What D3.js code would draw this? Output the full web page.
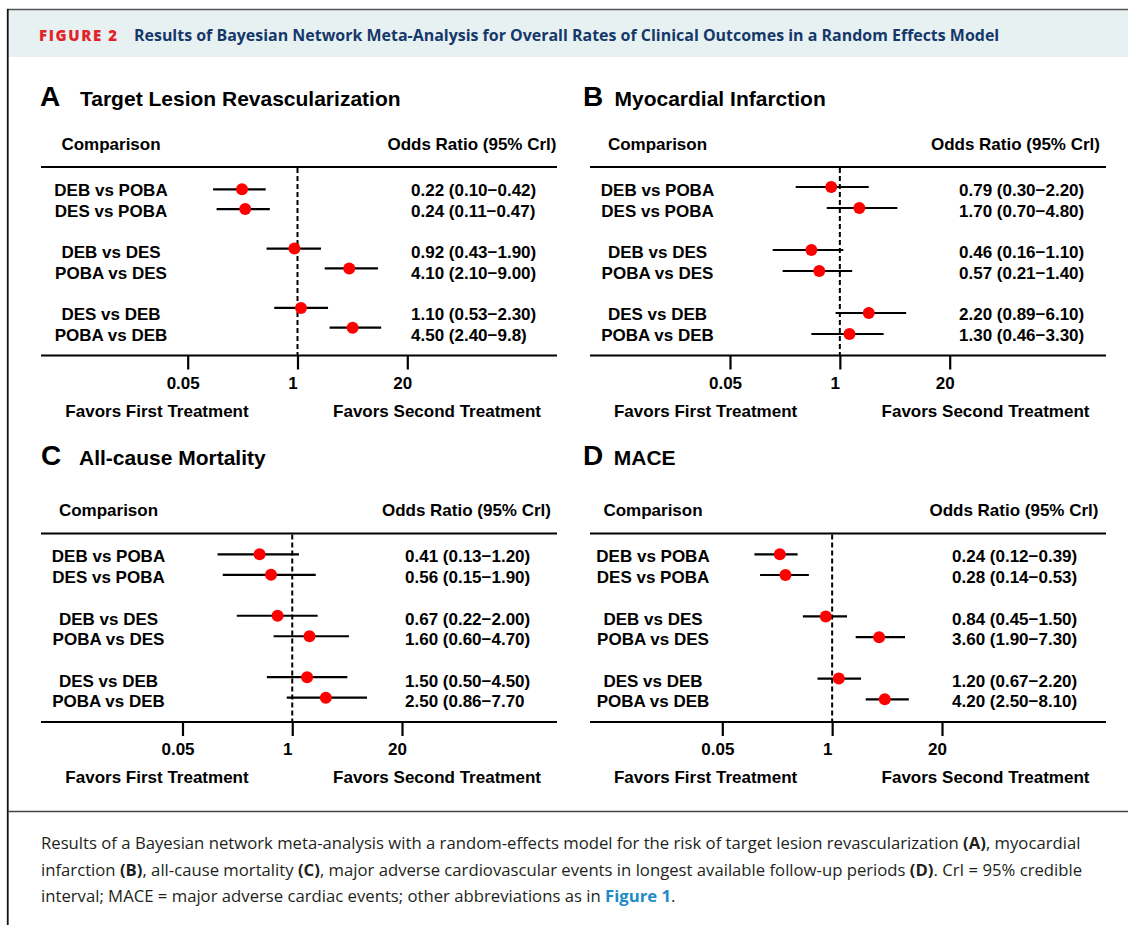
<!DOCTYPE html>
<html>
<head>
<meta charset="utf-8">
<script src="https://cdn.jsdelivr.net/npm/d3@7"></script>
<style>
  body { margin: 0; background: #fff; }
  svg text { font-family: "Liberation Sans", Arial, sans-serif; }
  svg text.capline { font-family: "Open Sans", "Noto Sans", sans-serif; }
</style>
</head>
<body>
<svg id="chart" width="1128" height="925"></svg>
<script>
// ======================================================================
// DATA
// ======================================================================

var comparisons = ["DEB vs POBA", "DES vs POBA", "DEB vs DES", "POBA vs DES", "DES vs DEB", "POBA vs DEB"];
var rowSlots = [0, 1, 3, 4, 6, 7];
var tickValues = [0.05, 1, 20];

// A - target lesion revascularization
var tlrOR = [0.22, 0.24, 0.92, 4.10, 1.10, 4.50];
var tlrLow = [0.10, 0.11, 0.43, 2.10, 0.53, 2.40];
var tlrHigh = [0.42, 0.47, 1.90, 9.00, 2.30, 9.8];
var tlrText = ["0.22 (0.10\u22120.42)", "0.24 (0.11\u22120.47)", "0.92 (0.43\u22121.90)",
               "4.10 (2.10\u22129.00)", "1.10 (0.53\u22122.30)", "4.50 (2.40\u22129.8)"];

// B - myocardial infarction
var miOR = [0.79, 1.70, 0.46, 0.57, 2.20, 1.30];
var miLow = [0.30, 0.70, 0.16, 0.21, 0.89, 0.46];
var miHigh = [2.20, 4.80, 1.10, 1.40, 6.10, 3.30];
var miText = ["0.79 (0.30\u22122.20)", "1.70 (0.70\u22124.80)", "0.46 (0.16\u22121.10)",
              "0.57 (0.21\u22121.40)", "2.20 (0.89\u22126.10)", "1.30 (0.46\u22123.30)"];

// C - all-cause mortality
var acmOR = [0.41, 0.56, 0.67, 1.60, 1.50, 2.50];
var acmLow = [0.13, 0.15, 0.22, 0.60, 0.50, 0.86];
var acmHigh = [1.20, 1.90, 2.00, 4.70, 4.50, 7.70];
var acmText = ["0.41 (0.13\u22121.20)", "0.56 (0.15\u22121.90)", "0.67 (0.22\u22122.00)",
               "1.60 (0.60\u22124.70)", "1.50 (0.50\u22124.50)", "2.50 (0.86\u22127.70"];

// D - MACE
var maceOR = [0.24, 0.28, 0.84, 3.60, 1.20, 4.20];
var maceLow = [0.12, 0.14, 0.45, 1.90, 0.67, 2.50];
var maceHigh = [0.39, 0.53, 1.50, 7.30, 2.20, 8.10];
var maceText = ["0.24 (0.12\u22120.39)", "0.28 (0.14\u22120.53)", "0.84 (0.45\u22121.50)",
                "3.60 (1.90\u22127.30)", "1.20 (0.67\u22122.20)", "4.20 (2.50\u22128.10)"];

// ======================================================================
// LAYOUT
// ======================================================================

var panels = [
  {letter: "A", title: "Target Lesion Revascularization", or: tlrOR, low: tlrLow, high: tlrHigh, text: tlrText,
   top: 0, titleY: 106, x0: 41, x1: 557, labelX: 111, orX: 411, headRight: 556.5,
   tickLo: 187.7, tickHi: 407.3, letterX: 40, titleX: 80, markTop: 189.3, markBottom: 327.7,
   favFirst: 157, favSecond: 437},
  {letter: "B", title: "Myocardial Infarction", or: miOR, low: miLow, high: miHigh, text: miText,
   top: 0, titleY: 106, x0: 590, x1: 1106, labelX: 657.5, orX: 959, headRight: 1100,
   tickLo: 730, tickHi: 949.7, letterX: 583, titleX: 614.5, markTop: 187, markBottom: 334,
   favFirst: 705.6, favSecond: 985.5},
  {letter: "C", title: "All-cause Mortality", or: acmOR, low: acmLow, high: acmHigh, text: acmText,
   top: 366.5, titleY: 465, x0: 41, x1: 557, labelX: 108.5, orX: 405, headRight: 551,
   tickLo: 182.5, tickHi: 402, letterX: 41, titleX: 79, markTop: 187.8, markBottom: 331.2,
   favFirst: 157, favSecond: 437},
  {letter: "D", title: "MACE", or: maceOR, low: maceLow, high: maceHigh, text: maceText,
   top: 366.5, titleY: 465, x0: 590, x1: 1106, labelX: 653, orX: 952, headRight: 1098.5,
   tickLo: 722.3, tickHi: 942, letterX: 583, titleX: 613.8, markTop: 187.8, markBottom: 332.8,
   favFirst: 705.6, favSecond: 985.5}
];

var svg = d3.select("#chart");

// ======================================================================
// FRAME AND HEADER
// ======================================================================

svg.append("rect").attr("x", 8.5).attr("y", 10).attr("width", 1120).attr("height", 47)
    .attr("fill", "#e8f1f1");
svg.append("line").attr("x1", 7).attr("x2", 1128).attr("y1", 9.5).attr("y2", 9.5)
    .attr("stroke", "#555").attr("stroke-width", 1.5);
svg.append("line").attr("x1", 7.75).attr("x2", 7.75).attr("y1", 9).attr("y2", 925)
    .attr("stroke", "#111").attr("stroke-width", 1.8);
svg.append("line").attr("x1", 8).attr("x2", 1128).attr("y1", 811.5).attr("y2", 811.5)
    .attr("stroke", "#444").attr("stroke-width", 1.5);

var fig = svg.append("text").attr("x", 39).attr("y", 41)
    .style("font-family", "'Open Sans', 'Noto Sans', sans-serif")
    .style("font-weight", 800).style("font-size", "15px")
    .attr("fill", "#e2232b").style("letter-spacing", "1.6px")
    .text("FIGURE 2");

var head = svg.append("text").attr("x", 134).attr("y", 41)
    .style("font-family", "'Open Sans', 'Noto Sans', sans-serif")
    .style("font-weight", 700).style("font-size", "16px")
    .attr("fill", "#14386a")
    .text("Results of Bayesian Network Meta-Analysis for Overall Rates of Clinical Outcomes in a Random Effects Model");

// fit a text element to the width seen in the figure
function fitWidth(sel, target) {
  var fs = parseFloat(sel.style("font-size"));
  var w = sel.node().getComputedTextLength();
  sel.style("font-size", (fs * target / w) + "px");
}
fitWidth(head, 866);

// ======================================================================
// FOREST PANELS
// ======================================================================

panels.forEach(function(p) {
  var g = svg.append("g").attr("transform", "translate(0," + p.top + ")");

  var x = d3.scaleLog().domain([0.05, 20]).range([p.tickLo, p.tickHi]);
  var yText = d3.scaleLinear().domain([0, 7]).range([190, 335]);
  var yMark = d3.scaleLinear().domain([0, 7]).range([p.markTop, p.markBottom]);

  // panel title
  g.append("text").attr("x", p.letterX).attr("y", p.titleY - p.top)
      .style("font-size", "28px").style("font-weight", 700).text(p.letter);
  g.append("text").attr("x", p.titleX).attr("y", p.titleY - p.top - 0.5)
      .style("font-size", "21px").style("font-weight", 700).text(p.title);

  // table headers
  g.append("text").attr("x", p.labelX).attr("y", 144).attr("dy", "0.35em")
      .attr("text-anchor", "middle").style("font-size", "17px").style("font-weight", 700)
      .text("Comparison");
  g.append("text").attr("x", p.headRight).attr("y", 144).attr("dy", "0.35em")
      .attr("text-anchor", "end").style("font-size", "17px").style("font-weight", 700)
      .text("Odds Ratio (95% Crl)");

  // rules
  g.append("line").attr("x1", p.x0).attr("x2", p.x1).attr("y1", 167).attr("y2", 167)
      .attr("stroke", "#000").attr("stroke-width", 2);

  // axis
  var axis = g.append("g").attr("transform", "translate(0,355.5)")
      .call(d3.axisBottom(x).tickValues(tickValues).tickSize(14)
        .tickFormat(function(d) { return d < 1 ? d3.format(".2f")(d) : d3.format("d")(d); }));
  axis.select(".domain").remove();
  axis.insert("line", ":first-child").attr("x1", p.x0).attr("x2", p.x1)
      .attr("stroke", "#000").attr("stroke-width", 2);
  axis.selectAll(".tick line").attr("stroke", "#000").attr("stroke-width", 2.2);
  axis.selectAll(".tick text").attr("y", 0).attr("dy", 0)
      .attr("transform", "translate(-5,33)")
      .attr("fill", "#000").style("font-size", "17px").style("font-weight", 700)
      .style("font-family", "'Liberation Sans', Arial, sans-serif");

  // reference line at 1
  g.append("line").attr("x1", x(1)).attr("x2", x(1)).attr("y1", 168).attr("y2", 355)
      .attr("stroke", "#000").attr("stroke-width", 2).attr("stroke-dasharray", "5,3");

  // rows
  var rows = comparisons.map(function(c, i) {
    return {name: c, slot: rowSlots[i], or: p.or[i], low: p.low[i], high: p.high[i], text: p.text[i]};
  });

  g.selectAll(".label").data(rows).enter().append("text")
      .attr("x", p.labelX).attr("y", function(d) { return yText(d.slot); }).attr("dy", "0.35em")
      .attr("text-anchor", "middle").style("font-size", "17px").style("font-weight", 700)
      .text(function(d) { return d.name; });

  g.selectAll(".ortext").data(rows).enter().append("text")
      .attr("x", p.orX).attr("y", function(d) { return yText(d.slot); }).attr("dy", "0.35em")
      .style("font-size", "17px").style("font-weight", 700)
      .text(function(d) { return d.text; });

  g.selectAll(".ci").data(rows).enter().append("line")
      .attr("x1", function(d) { return x(d.low); })
      .attr("x2", function(d) { return x(d.high); })
      .attr("y1", function(d) { return yMark(d.slot); })
      .attr("y2", function(d) { return yMark(d.slot); })
      .attr("stroke", "#000").attr("stroke-width", 2.2);

  g.selectAll(".pt").data(rows).enter().append("circle")
      .attr("cx", function(d) { return x(d.or); })
      .attr("cy", function(d) { return yMark(d.slot); })
      .attr("r", 6).attr("fill", "#ff0000");

  // favors labels
  g.append("text").attr("x", p.favFirst).attr("y", 411).attr("dy", "0.35em")
      .attr("text-anchor", "middle").style("font-size", "17px").style("font-weight", 700)
      .text("Favors First Treatment");
  g.append("text").attr("x", p.favSecond).attr("y", 411).attr("dy", "0.35em")
      .attr("text-anchor", "middle").style("font-size", "17px").style("font-weight", 700)
      .text("Favors Second Treatment");
});

// ======================================================================
// CAPTION
// ======================================================================

var captionLines = [
  [["Results of a Bayesian network meta-analysis with a random-effects model for the risk of target lesion revascularization ", 0], ["(A)", 1], [", myocardial", 0]],
  [["infarction ", 0], ["(B)", 1], [", all-cause mortality ", 0], ["(C)", 1], [", major adverse cardiovascular events in longest available follow-up periods ", 0], ["(D)", 1], [". CrI = 95% credible", 0]],
  [["interval; MACE = major adverse cardiac events; other abbreviations as in ", 0], ["Figure 1", 2], [".", 0]]
];
var captionY = [849, 876, 902];

var cap = svg.append("g").style("font-size", "15px").attr("fill", "#231f20");

captionLines.forEach(function(line, i) {
  var t = cap.append("text").attr("class", "capline").attr("x", 41).attr("y", captionY[i]);
  line.forEach(function(seg) {
    t.append("tspan").text(seg[0])
        .style("font-weight", seg[1] ? 700 : 400)
        .attr("fill", seg[1] === 2 ? "#1f8bc6" : "#231f20");
  });
});

// scale the caption so its first line spans the width seen in the figure
var first = cap.select(".capline").node().getComputedTextLength();
cap.style("font-size", (15 * 1040 / first) + "px");
</script>
</body>
</html>
